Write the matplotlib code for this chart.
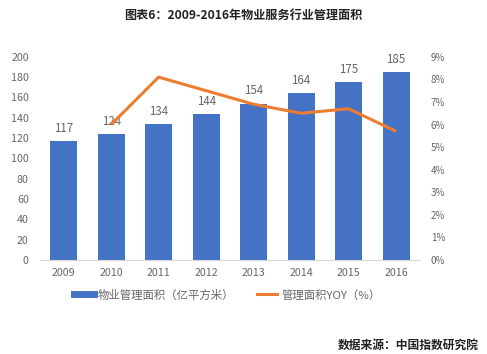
import matplotlib.pyplot as plt
from matplotlib.lines import Line2D
from matplotlib.ticker import FuncFormatter

plt.rcParams['font.family'] = ['Noto Sans CJK SC', 'DejaVu Sans']

# данные
years = ['2009', '2010', '2011', '2012', '2013', '2014', '2015', '2016']
area = [117, 124, 134, 144, 154, 164, 175, 185]  # 亿平方米
yoy_years = years[1:]
yoy = [6.0, 8.1, 7.5, 6.9, 6.5, 6.7, 5.7]  # %

blue = '#4472C4'
orange = '#ED7D31'
grey = '#666666'

fig = plt.figure(figsize=(4.87, 3.54), dpi=100)
ax = fig.add_axes([0.082, 0.2655, 0.78, 0.574])
ax2 = ax.twinx()

x = list(range(len(years)))
ax.bar(x, area, width=0.57, color=blue, zorder=2)
for xi, v in zip(x, area):
    ax.text(xi, v + 6, str(v), ha='center', va='bottom', fontsize=8.3, color=grey)

x_yoy = [years.index(y) for y in yoy_years]
ax2.plot(x_yoy, yoy, color=orange, linewidth=2.2, solid_capstyle='butt', zorder=3)

ax.set_xlim(-0.5, len(years) - 0.5)
ax.set_ylim(0, 200)
ax.set_yticks(range(0, 201, 20))
ax.set_xticks(x)
ax.set_xticklabels(years)
ax2.set_ylim(0, 9)
ax2.set_yticks(range(0, 10))
ax2.yaxis.set_major_formatter(FuncFormatter(lambda v, p: f'{int(v)}%'))

for a in (ax, ax2):
    for s in a.spines.values():
        s.set_visible(False)
    a.tick_params(length=0, colors=grey, labelsize=7.7)
ax.spines['bottom'].set_visible(True)
ax.spines['bottom'].set_color('#D9D9D9')
ax.tick_params(axis='y', pad=8)
ax.tick_params(axis='x', pad=6)
ax2.tick_params(axis='y', labelsize=7, pad=8)

fig.text(0.5, 0.957, '图表6：2009-2016年物业服务行业管理面积', ha='center', va='center',
         fontsize=8.7, fontweight='bold', color='#222222')

handles = [Line2D([], [], color=blue, linewidth=5),
           Line2D([], [], color=orange, linewidth=2.2)]
fig.legend(handles, ['物业管理面积（亿平方米）', '管理面积YOY（%）'], loc='center',
           bbox_to_anchor=(0.467, 0.167), ncol=2, frameon=False, fontsize=8.2,
           handlelength=1.7, handletextpad=0.4, columnspacing=2.0, labelcolor=grey)

fig.text(0.984, 0.025, '数据来源：中国指数研究院', ha='right', va='center',
         fontsize=8.5, fontweight='bold', color='#222222')

fig.savefig('out.png', dpi=100)
